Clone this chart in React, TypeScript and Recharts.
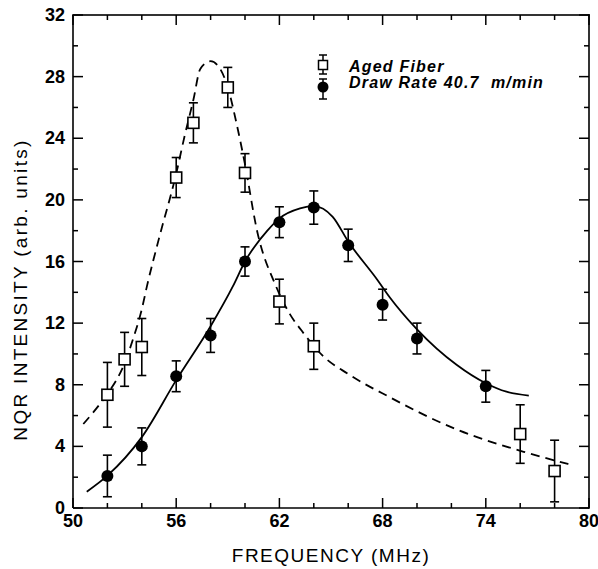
import React from "react";
import { ComposedChart, Line, Scatter, ErrorBar, XAxis, YAxis, Legend } from "recharts";

const font = "'Liberation Sans', Arial, Helvetica, sans-serif";

// axis ticks (minor every 2, labels on majors)
const xTicks = [50, 52, 54, 56, 58, 60, 62, 64, 66, 68, 70, 72, 74, 76, 78, 80];
const xLabelTicks = [50, 56, 62, 68, 74, 80];
const yTicks = [0, 2, 4, 6, 8, 10, 12, 14, 16, 18, 20, 22, 24, 26, 28, 30, 32];
const yLabelTicks = [0, 4, 8, 12, 16, 20, 24, 28, 32];

const seriesNames = ["Aged Fiber", "Draw Rate 40.7  m/min"];

// aged fiber (open squares)
const agedFreq = [52, 53, 54, 56, 57, 59, 60, 62, 64, 76, 78];
const agedValue = [7.35, 9.65, 10.45, 21.45, 25.0, 27.3, 21.75, 13.4, 10.5, 4.8, 2.4];
const agedErr = [2.1, 1.75, 1.85, 1.3, 1.3, 1.3, 1.25, 1.45, 1.5, 1.9, 2.0];

// draw rate 40.7 m/min (filled circles)
const drawFreq = [52, 54, 56, 58, 60, 62, 64, 66, 68, 70, 74];
const drawValue = [2.08, 4.0, 8.55, 11.2, 16.0, 18.55, 19.5, 17.05, 13.2, 11.0, 7.9];
const drawErr = [1.35, 1.2, 1.0, 1.1, 0.95, 1.0, 1.08, 1.05, 1.0, 1.0, 1.03];

// fitted curves
const agedFitX = [50.6, 51.6, 52, 53, 53.5, 54, 54.3, 55, 56, 56.5, 57, 57.4, 58, 58.5, 59, 59.5, 60, 60.7, 61.8, 62.6, 63.3, 64.5, 66, 68.4, 72.3, 76.2, 78.8];
const agedFitY = [5.45, 6.8, 7.4, 9.4, 11.0, 12.9, 14.4, 17.5, 21.7, 24.2, 26.5, 28.5, 29.0, 28.6, 27.3, 25.0, 22.3, 18.0, 14.4, 12.6, 11.5, 9.9, 8.7, 7.2, 5.1, 3.65, 2.85];
const drawFitX = [50.8, 52, 54, 56, 58, 59.3, 60, 61.3, 62, 63.2, 64, 65.1, 66, 67.7, 68.4, 70, 72.3, 74, 75.2, 76.5];
const drawFitY = [1.06, 2.1, 4.6, 8.3, 11.8, 14.4, 16.0, 18.0, 18.8, 19.45, 19.6, 18.9, 17.3, 14.8, 13.7, 11.6, 9.3, 8.1, 7.55, 7.3];

const agedPoints = agedFreq.map((x, i) => ({ x, y: agedValue[i], err: agedErr[i] }));
const drawPoints = drawFreq.map((x, i) => ({ x, y: drawValue[i], err: drawErr[i] }));
const agedFit = agedFitX.map((x, i) => ({ x, y: agedFitY[i] }));
const drawFit = drawFitX.map((x, i) => ({ x, y: drawFitY[i] }));

// chart layout
const W = 598, H = 569;
const margin = { top: 15, right: 9, bottom: 0, left: 0 };
const yAxisW = 73, xAxisH = 61;
const plotW = W - margin.left - margin.right - yAxisW;
const plotH = H - margin.top - margin.bottom - xAxisH;

const tickStyle = { fontFamily: font, fontSize: 18, fontWeight: 700, fill: "#000" };

// bottom tick + mirrored top tick; first/last tick also draw the top/right frame
function BottomTick(props: any) {
  const x = Number(props.x);
  const y = Number(props.y);
  const v = props.payload.value;
  const len = xLabelTicks.includes(v) ? 10 : 5;
  const top = y - plotH;
  return (
    <g>
      <rect x={x - 0.75} y={y - len} width={1.5} height={len} fill="#000" />
      <rect x={x - 0.75} y={top} width={1.5} height={len} fill="#000" />
      {v === xTicks[0] && <rect x={x - 0.8} y={top - 0.8} width={plotW + 1.6} height={1.6} fill="#000" />}
      {v === xTicks[xTicks.length - 1] && <rect x={x - 0.8} y={top - 0.8} width={1.6} height={plotH + 1.6} fill="#000" />}
      {xLabelTicks.includes(v) && (
        <text x={x} y={y + 19} textAnchor="middle" style={tickStyle}>
          {v}
        </text>
      )}
    </g>
  );
}

// left tick + mirrored right tick
function LeftTick(props: any) {
  const x = Number(props.x);
  const y = Number(props.y);
  const v = props.payload.value;
  const len = yLabelTicks.includes(v) ? 10 : 5;
  const right = x + plotW;
  return (
    <g>
      <rect x={x} y={y - 0.75} width={len} height={1.5} fill="#000" />
      <rect x={right - len} y={y - 0.75} width={len} height={1.5} fill="#000" />
      {yLabelTicks.includes(v) && (
        <text x={x - 8} y={y + 6} textAnchor="end" style={tickStyle}>
          {v}
        </text>
      )}
    </g>
  );
}

const OpenSquare = (p: any) => (
  <rect x={p.cx - 5.5} y={p.cy - 5.5} width={11} height={11} fill="#fff" stroke="#000" strokeWidth={1.6} />
);
const FilledDot = (p: any) => <circle cx={p.cx} cy={p.cy} r={6} fill="#000" />;

function LegendBox() {
  const txt = { fontFamily: font, fontSize: 16, fontWeight: 700, fontStyle: "italic", letterSpacing: 1.2, whiteSpace: "pre" } as any;
  return (
    <svg width={270} height={56} style={{ display: "block" }}>
      <g stroke="#000" strokeWidth={1.5}>
        <line x1={13} y1={5} x2={13} y2={24} />
        <line x1={9} y1={5} x2={17} y2={5} />
        <line x1={9} y1={24} x2={17} y2={24} />
        <rect x={8.5} y={10.5} width={9} height={9} fill="#fff" />
        <line x1={13} y1={29} x2={13} y2={49} />
        <line x1={9} y1={29} x2={17} y2={29} />
        <line x1={9} y1={49} x2={17} y2={49} />
      </g>
      <circle cx={13} cy={37} r={5.5} fill="#000" />
      <text x={39} y={22} style={txt}>{seriesNames[0]}</text>
      <text x={39} y={38} style={txt}>{seriesNames[1]}</text>
    </svg>
  );
}

export default function App() {
  return (
    <div style={{ position: "absolute", left: 0, top: 0, width: W, height: H, background: "#fff" }}>
      <ComposedChart width={W} height={H} margin={margin}>
        <XAxis
          dataKey="x"
          type="number"
          domain={[50, 80]}
          ticks={xTicks}
          interval={0}
          height={xAxisH}
          tickSize={0}
          tickMargin={0}
          tickLine={false}
          tick={<BottomTick />}
          axisLine={{ stroke: "#000", strokeWidth: 1.6 }}
          label={{
            value: "FREQUENCY (MHz)",
            position: "insideBottom",
            offset: 7,
            style: { fontFamily: font, fontSize: 19, fill: "#000", letterSpacing: 1.5, fontWeight: 500 },
          }}
        />
        <YAxis
          type="number"
          domain={[0, 32]}
          ticks={yTicks}
          interval={0}
          width={yAxisW}
          tickSize={0}
          tickMargin={0}
          tickLine={false}
          tick={<LeftTick />}
          axisLine={{ stroke: "#000", strokeWidth: 1.6 }}
          label={{
            content: ({ viewBox }: any) => (
              <text
                transform={`translate(${viewBox.x + 27}, ${viewBox.y + viewBox.height / 2 + 28}) rotate(-90)`}
                textAnchor="middle"
                style={{ fontFamily: font, fontSize: 19, fill: "#000", letterSpacing: 2.3, fontWeight: 500 }}
              >
                NQR INTENSITY (arb. units)
              </text>
            ),
          }}
        />
        <Legend
          verticalAlign="middle"
          align="center"
          layout="horizontal"
          wrapperStyle={{ top: 50, left: 310, width: 270, height: 56 }}
          content={() => <LegendBox />}
        />
        <Line
          data={agedFit}
          dataKey="y"
          type="monotone"
          stroke="#000"
          strokeWidth={1.8}
          strokeDasharray="9 6"
          dot={false}
          activeDot={false}
          isAnimationActive={false}
          legendType="none"
        />
        <Line
          data={drawFit}
          dataKey="y"
          type="monotone"
          stroke="#000"
          strokeWidth={1.8}
          dot={false}
          activeDot={false}
          isAnimationActive={false}
          legendType="none"
        />
        <Scatter name={seriesNames[0]} data={agedPoints} dataKey="y" shape={OpenSquare} isAnimationActive={false}>
          <ErrorBar dataKey="err" direction="y" width={4.5} stroke="#000" strokeWidth={1.6} />
        </Scatter>
        <Scatter name={seriesNames[1]} data={drawPoints} dataKey="y" shape={FilledDot} isAnimationActive={false}>
          <ErrorBar dataKey="err" direction="y" width={4.5} stroke="#000" strokeWidth={1.6} />
        </Scatter>
      </ComposedChart>
    </div>
  );
}
